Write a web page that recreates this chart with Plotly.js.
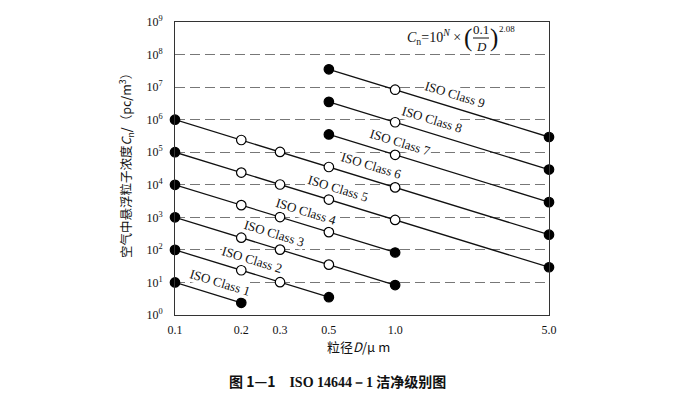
<!DOCTYPE html>
<html>
<head>
<meta charset="utf-8">
<script src="https://cdn.plot.ly/plotly-3.0.1.min.js"></script>
<style>
	html, body { margin: 0; padding: 0; background: #fff; }
	#chart { width: 678px; height: 401px; }
</style>
</head>
<body>
<div id="chart"></div>
<script>
// particle sizes (µm) per class, and the class limit concentrations
const classNames = [ 'ISO Class 1', 'ISO Class 2', 'ISO Class 3', 'ISO Class 4', 'ISO Class 5',
	'ISO Class 6', 'ISO Class 7', 'ISO Class 8', 'ISO Class 9' ];

const classSizes = [
	[ 0.1, 0.2 ],
	[ 0.1, 0.2, 0.3, 0.5 ],
	[ 0.1, 0.2, 0.3, 0.5, 1.0 ],
	[ 0.1, 0.2, 0.3, 0.5, 1.0 ],
	[ 0.1, 0.2, 0.3, 0.5, 1.0, 5.0 ],
	[ 0.1, 0.2, 0.3, 0.5, 1.0, 5.0 ],
	[ 0.5, 1.0, 5.0 ],
	[ 0.5, 1.0, 5.0 ],
	[ 0.5, 1.0, 5.0 ],
];

const classConc = [
	[ 10, 2.37 ],
	[ 100, 23.7, 10.2, 3.52 ],
	[ 1000, 237, 102, 35.2, 8.32 ],
	[ 10000, 2370, 1020, 352, 83.2 ],
	[ 100000, 23700, 10200, 3520, 832, 29.3 ],
	[ 1000000, 237000, 102000, 35200, 8320, 293 ],
	[ 352000, 83200, 2930 ],
	[ 3520000, 832000, 29300 ],
	[ 35200000, 8320000, 293000 ],
];

// where along each line the class label sits (particle size, µm)
const labelAt = [ 0.16, 0.223, 0.283, 0.395, 0.552, 0.778, 1.06, 1.47, 1.87 ];

const xTickVals = [ 0.1, 0.2, 0.3, 0.5, 1.0, 5.0 ];
const xTickText = [ '0.1', '0.2', '0.3', '0.5', '1.0', '5.0' ];
const yTickExp = [ 0, 1, 2, 3, 4, 5, 6, 7, 8, 9 ];

const W = 678, H = 401;
const margin = { l: 175, r: 129, t: 22, b: 86, pad: 0 };
const xRange = [ -1, Math.log10(5) ];
const yRange = [ 0, 9 ];

const serif = '"Liberation Serif", "Times New Roman", serif';
const cjk = '"Noto Sans CJK SC", sans-serif';
const ink = '#111';

// on-screen angle of the class lines (slope -2.08 in log-log)
const pxPerDecX = (W - margin.l - margin.r) / (xRange[1] - xRange[0]);
const pxPerDecY = (H - margin.t - margin.b) / (yRange[1] - yRange[0]);
const lineAngle = Math.atan(2.08 * pxPerDecY / pxPerDecX) * 180 / Math.PI;

// concentration on a class line at size d (log-log interpolation between its ends)
function onLine( xs, ys, d ){
	const n = xs.length - 1;
	const lx0 = Math.log10(xs[0]), lx1 = Math.log10(xs[n]);
	const ly0 = Math.log10(ys[0]), ly1 = Math.log10(ys[n]);
	const t = (Math.log10(d) - lx0) / (lx1 - lx0);
	return Math.pow(10, ly0 + t * (ly1 - ly0));
}

const data = classNames.map(( name, i ) => {
	const xs = classSizes[i];
	const last = xs.length - 1;
	return {
		x: xs,
		y: classConc[i],
		name,
		type: 'scatter',
		mode: 'lines+markers',
		cliponaxis: false,
		showlegend: false,
		line: { color: ink, width: 1.3 },
		marker: {
			size: 9.5,
			// ends of each class range are solid, intermediate sizes open
			color: xs.map(( d, j ) => (j === 0 || j === last) ? '#000' : '#fff'),
			line: { color: '#000', width: 1.2 },
		},
		hoverinfo: 'skip',
	};
});

const classLabels = classNames.map(( name, i ) => ({
	x: Math.log10(labelAt[i]),
	y: Math.log10(onLine(classSizes[i], classConc[i], labelAt[i])),
	xref: 'x', yref: 'y',
	text: name,
	showarrow: false,
	textangle: lineAngle,
	xanchor: 'center', yanchor: 'middle',
	yshift: 14,
	bgcolor: '#fff',
	borderpad: 0,
	font: { family: serif, size: 13, color: ink },
}));

// paper coords from pixel position
const px = v => (v - margin.l) / (W - margin.l - margin.r);
const py = v => (H - margin.b - v) / (H - margin.t - margin.b);

const formula = [
	{ x: px(463), y: py(37), xanchor: 'right', text: '<i>C</i><sub>n</sub>=10<sup><i>N</i></sup> ×', font: { family: serif, size: 14, color: ink } },
	{ x: px(468), y: py(38), xanchor: 'center', text: '(', font: { family: serif, size: 25, color: ink } },
	{ x: px(481), y: py(30), xanchor: 'center', text: '0.1', font: { family: serif, size: 13, color: ink } },
	{ x: px(481), y: py(46.5), xanchor: 'center', text: '<i>D</i>', font: { family: serif, size: 13, color: ink } },
	{ x: px(494), y: py(38), xanchor: 'center', text: ')', font: { family: serif, size: 25, color: ink } },
	{ x: px(497), y: py(29), xanchor: 'left', text: '2.08', font: { family: serif, size: 9, color: ink } },
].map(a => Object.assign({ xref: 'paper', yref: 'paper', yanchor: 'middle', showarrow: false }, a));

const titles = [
	{
		x: px(126), y: py(163), textangle: -90,
		text: '空气中悬浮粒子浓度<i>C</i><sub>n</sub>/（pc/m<sup>3</sup>）',
		font: { family: cjk, size: 12.5, color: ink },
	},
	{
		x: px(358), y: py(346),
		text: '粒径<i>D</i>/μ m',
		font: { family: cjk, size: 13, color: ink },
	},
	{
		x: px(337), y: py(381),
		text: '<b>图 1—1　<span style="font-family:Liberation Serif">ISO 14644－1</span> 洁净级别图</b>',
		font: { family: cjk, size: 14, color: ink },
	},
].map(a => Object.assign({ xref: 'paper', yref: 'paper', xanchor: 'center', yanchor: 'middle', showarrow: false }, a));

const layout = {
	width: W,
	height: H,
	margin,
	paper_bgcolor: '#fff',
	plot_bgcolor: '#fff',
	showlegend: false,
	font: { family: serif, size: 12, color: ink },
	xaxis: {
		type: 'log',
		range: xRange,
		tickvals: xTickVals,
		ticktext: xTickText,
		showgrid: false,
		zeroline: false,
		showline: true,
		mirror: true,
		linecolor: '#333',
		linewidth: 1,
		ticks: '',
		ticklabelstandoff: 4,
		tickfont: { family: serif, size: 12, color: ink },
	},
	yaxis: {
		type: 'log',
		range: yRange,
		tickvals: yTickExp.map(e => Math.pow(10, e)),
		ticktext: yTickExp.map(e => `10<sup>${e}</sup>`),
		showgrid: true,
		gridcolor: '#777',
		gridwidth: 1,
		griddash: '10px,5px',
		zeroline: false,
		showline: true,
		mirror: true,
		linecolor: '#333',
		linewidth: 1,
		ticks: '',
		ticklabelstandoff: 9,
		tickfont: { family: serif, size: 12, color: ink },
	},
	shapes: [
		// fraction bar of the formula
		{ type: 'line', xref: 'paper', yref: 'paper', x0: px(473), x1: px(489), y0: py(38), y1: py(38), line: { color: ink, width: 1 } },
	],
	annotations: classLabels.concat(formula, titles),
};

Plotly.newPlot('chart', data, layout, { displayModeBar: false, staticPlot: true });
</script>
</body>
</html>
